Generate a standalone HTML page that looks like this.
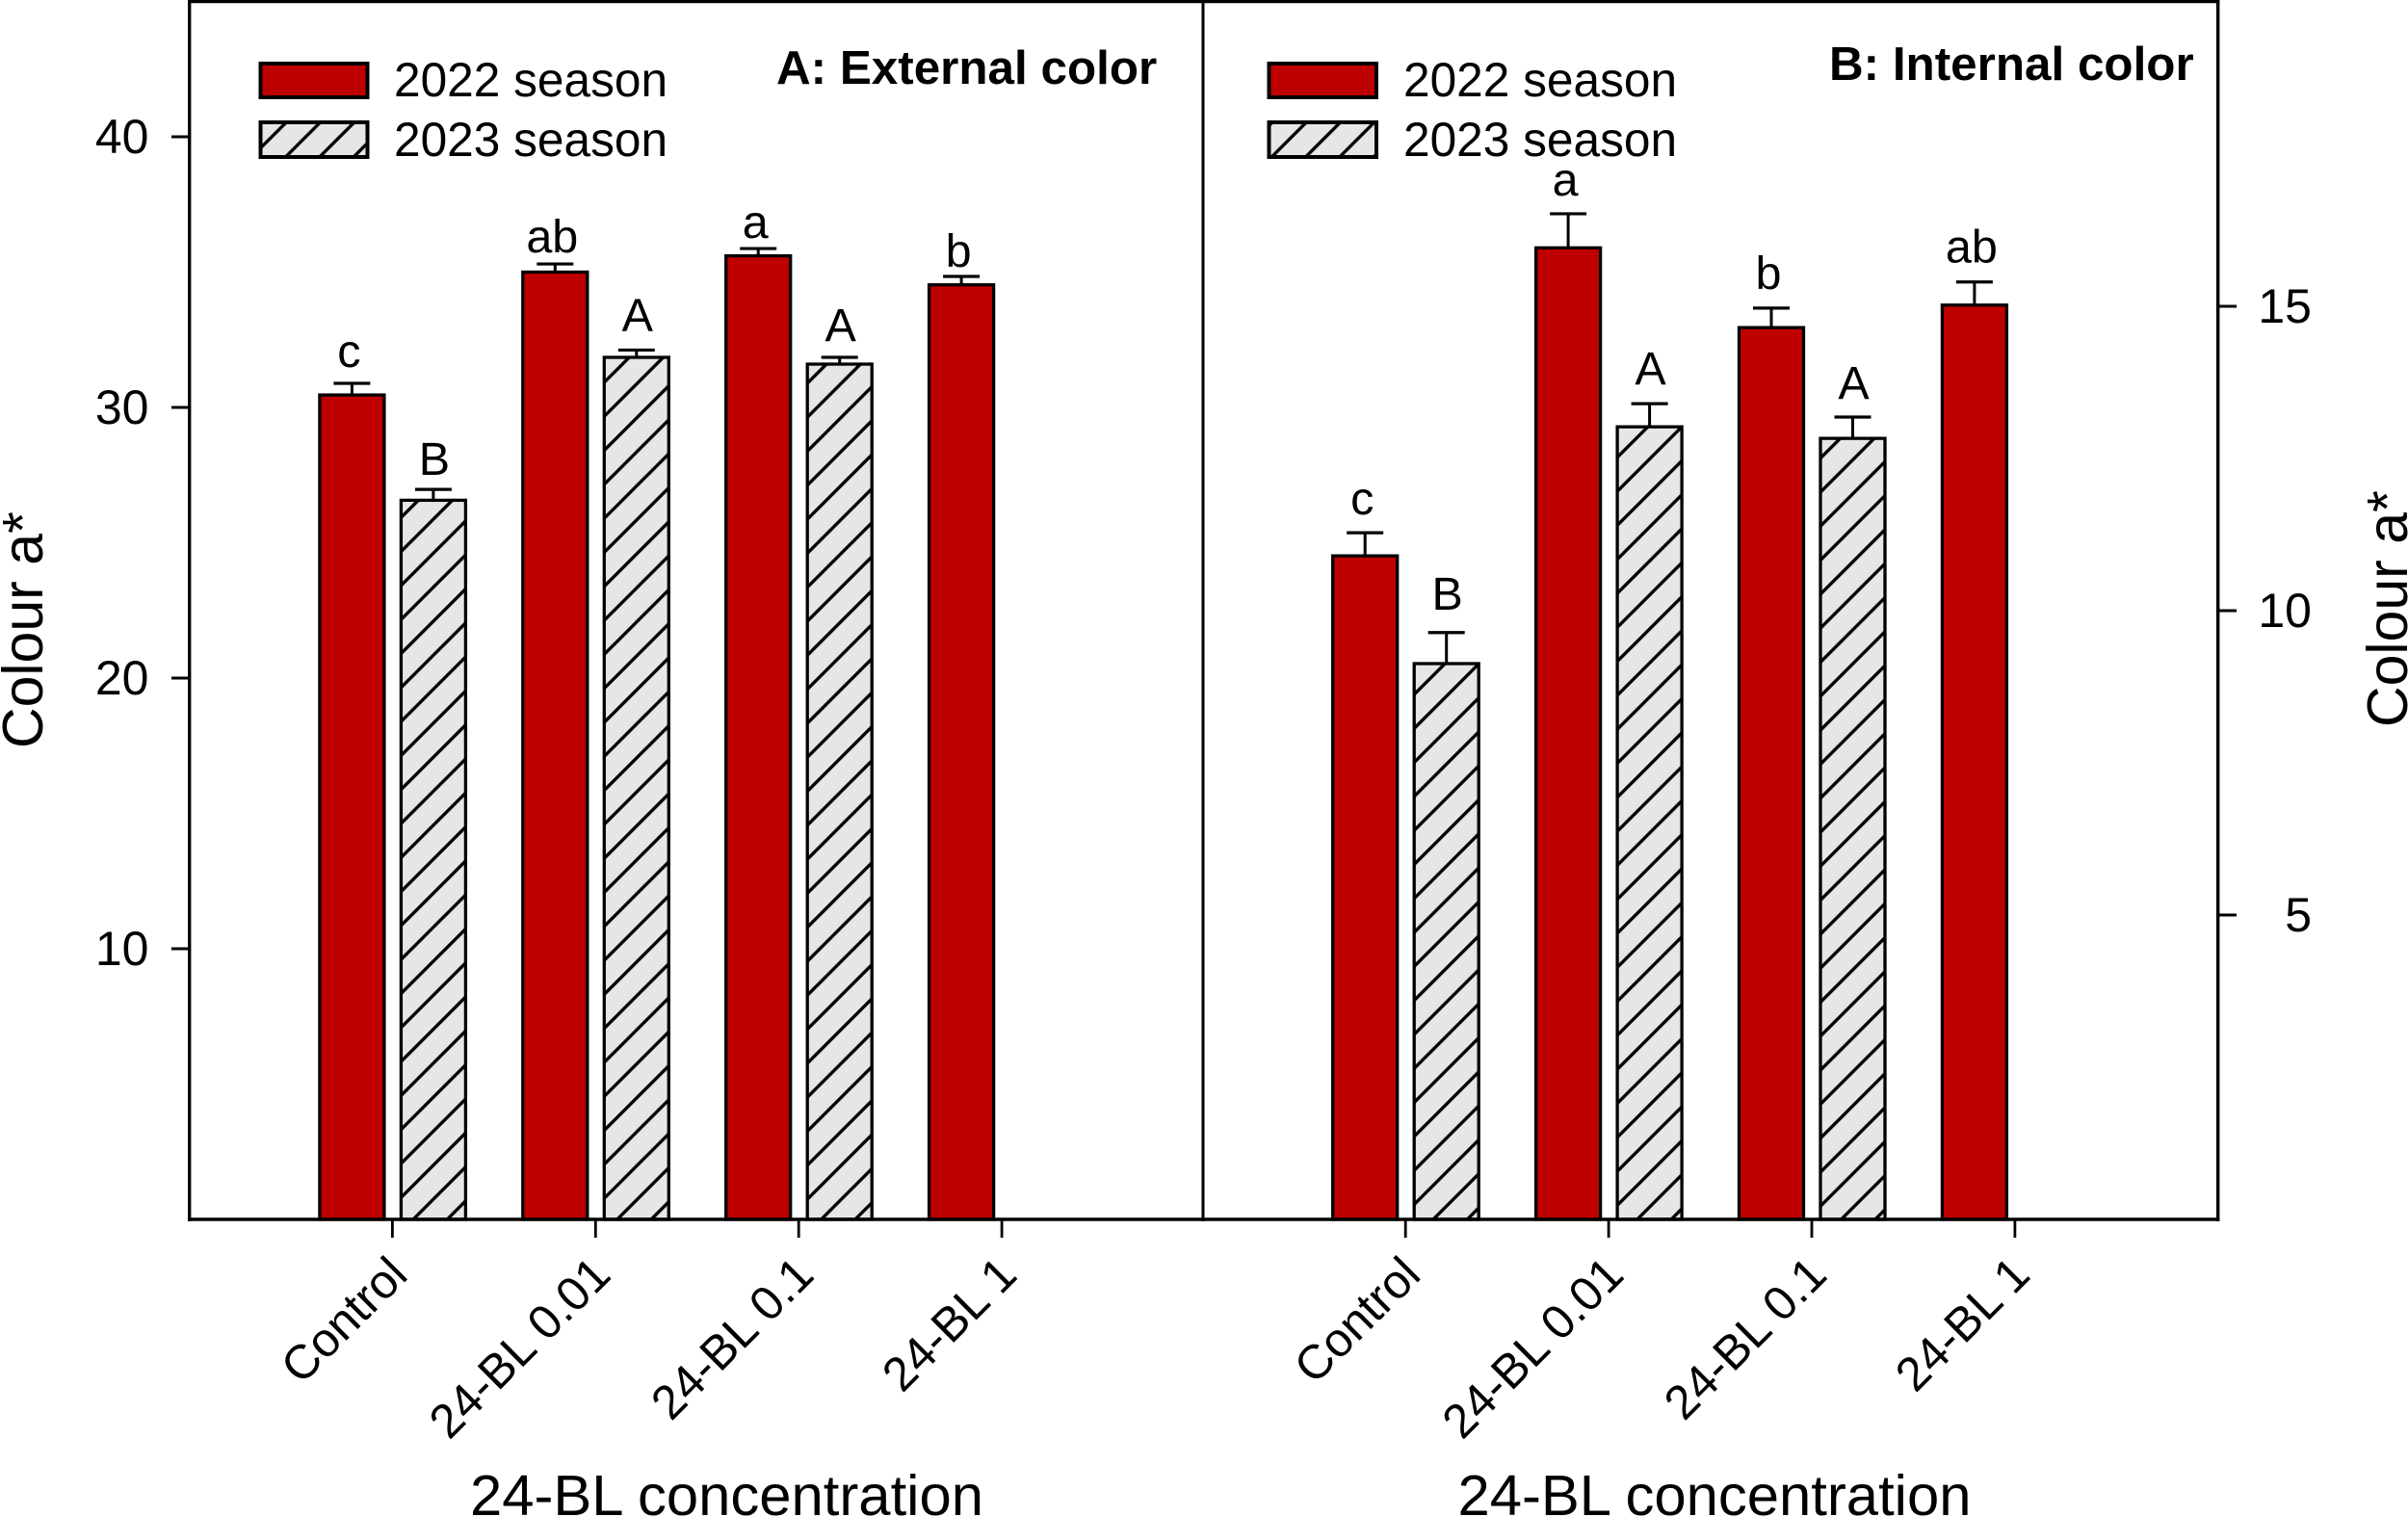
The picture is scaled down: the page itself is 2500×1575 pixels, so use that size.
<!DOCTYPE html>
<html lang="en">
<head>
<meta charset="utf-8">
<title>Colour a* by 24-BL concentration</title>
<style>
html,body{margin:0;padding:0;background:#fff;width:2500px;height:1575px;overflow:hidden}
svg{display:block}
text{font-family:"Liberation Sans",Arial,sans-serif;fill:#000}
</style>
</head>
<body>
<svg id="chart" xmlns="http://www.w3.org/2000/svg" width="2500" height="1575" viewBox="0 0 2500 1575">
  <defs>
    <pattern id="hatch" patternUnits="userSpaceOnUse" width="35.3" height="35.3" patternTransform="translate(0.6,0)">
      <rect width="35.3" height="35.3" fill="#e6e6e6"/>
      <path d="M-5,40.3 L40.3,-5 M-5,5 L5,-5 M30.3,40.3 L40.3,30.3" stroke="#000" stroke-width="3.4" fill="none"/>
    </pattern>
  </defs>
  <rect width="2500" height="1575" fill="#fff"/>

  <g id="marks"></g>

  <g stroke="#000" fill="none">
    <line x1="196.7" y1="0" x2="196.7" y2="1268" stroke-width="3.4"/>
    <line x1="1249" y1="0" x2="1249" y2="1268" stroke-width="3"/>
    <line x1="2302.7" y1="0" x2="2302.7" y2="1268" stroke-width="3.4"/>
    <line x1="195" y1="1.5" x2="2304.4" y2="1.5" stroke-width="3.4"/>
    <line x1="195" y1="1266" x2="2304.4" y2="1266" stroke-width="3.6"/>
  </g>
  <g id="axes"></g>

  <g>
    <g>
      <rect x="270.5" y="66" width="111" height="35" fill="#bf0000" stroke="#000" stroke-width="4"/>
      <text x="409" y="100" font-size="49.6">2022 season</text>
    </g>
    <g>
      <rect x="270.5" y="127" width="111" height="36" fill="url(#hatch)" stroke="#000" stroke-width="4"/>
      <text x="409" y="162" font-size="49.6">2023 season</text>
    </g>
  </g>
  <g>
    <g>
      <rect x="1317.5" y="66" width="111.5" height="35" fill="#bf0000" stroke="#000" stroke-width="4"/>
      <text x="1457" y="100" font-size="49.6">2022 season</text>
    </g>
    <g>
      <rect x="1317.5" y="127" width="111.5" height="36" fill="url(#hatch)" stroke="#000" stroke-width="4"/>
      <text x="1457" y="162" font-size="49.6">2023 season</text>
    </g>
  </g>

  <text x="806" y="87" font-size="49.4" font-weight="700">A: External color</text>
  <text x="1899" y="83" font-size="49.4" font-weight="700">B: Internal color</text>

  <text transform="translate(44,777) rotate(-90)" font-size="59">Colour a*</text>
  <text transform="translate(2499,755) rotate(-90)" font-size="59">Colour a*</text>
  <text x="488" y="1573" font-size="59.8">24-BL concentration</text>
  <text x="1513.5" y="1573" font-size="59.8">24-BL concentration</text>
</svg>

<script>
// ---- chart data ----
var categories = ['Control', '24-BL 0.01', '24-BL 0.1', '24-BL 1'];

var externalSeason2022 = [30.46, 35.0, 35.6, 34.53];
var externalSeason2022Err = [0.43, 0.30, 0.27, 0.31];
var externalSeason2022Letters = ['c', 'ab', 'a', 'b'];
var externalSeason2023 = [26.57, 31.85, 31.6];
var externalSeason2023Err = [0.40, 0.27, 0.25];
var externalSeason2023Letters = ['B', 'A', 'A'];

var internalSeason2022 = [10.9, 15.96, 14.65, 15.02];
var internalSeason2022Err = [0.38, 0.56, 0.32, 0.38];
var internalSeason2022Letters = ['c', 'a', 'b', 'ab'];
var internalSeason2023 = [9.13, 13.02, 12.83];
var internalSeason2023Err = [0.51, 0.38, 0.35];
var internalSeason2023Letters = ['B', 'A', 'A'];

var externalTicks = [10, 20, 30, 40];
var internalTicks = [5, 10, 15];

// ---- layout ----
var NS = 'http://www.w3.org/2000/svg';
var marks = document.getElementById('marks');
var axes = document.getElementById('axes');
var plotBottom = 1266;
var slotStep = 210.9;
var barWidth = 67;
var capHalf = 19;
var externalLabelLift = {s22: [17, 12, 11, 10], s23: [15, 20, 17]};
var internalLabelLift = {s22: [19, 19, 20, 20], s23: [24, 20, 19]};

function yExternal(v) { return plotBottom - 28.1 * v; }
function yInternal(v) { return plotBottom - 63.2 * v; }
function xSlotA(i) { return 407.4 + i * slotStep; }
function xSlotB(i) { return 1459.2 + i * slotStep; }

function make(parent, tag, attrs, content) {
  var el = document.createElementNS(NS, tag);
  for (var k in attrs) { el.setAttribute(k, attrs[k]); }
  if (content !== undefined) { el.textContent = content; }
  parent.appendChild(el);
  return el;
}

function drawSeries(panel, season, values, errs, letters, lifts, xFn, yFn, offset, fill, labelDx) {
  values.forEach(function (v, i) {
    var cx = xFn(i) + offset;
    var top = yFn(v);
    var capY = yFn(v + errs[i]);

    var stem = make(marks, 'line', {x1: cx, y1: top, x2: cx, y2: capY, stroke: '#000', 'stroke-width': 3});
    
    

    var cap = make(marks, 'line', {x1: cx - capHalf, y1: capY, x2: cx + capHalf, y2: capY, stroke: '#000', 'stroke-width': 3.2});
    
    

    var bar = make(marks, 'rect', {x: cx - barWidth / 2, y: top, width: barWidth, height: plotBottom - top, fill: fill, stroke: '#000', 'stroke-width': 3.3});
    
    

    var label = make(marks, 'text', {x: cx + labelDx, y: capY - lifts[i], 'font-size': 48.5, 'text-anchor': 'middle'}, letters[i]);
    
    
  });
}

drawSeries('external', '2022', externalSeason2022, externalSeason2022Err, externalSeason2022Letters, externalLabelLift.s22, xSlotA, yExternal, -42, '#bf0000', -3);
drawSeries('external', '2023', externalSeason2023, externalSeason2023Err, externalSeason2023Letters, externalLabelLift.s23, xSlotA, yExternal, 42.5, 'url(#hatch)', 1);
drawSeries('internal', '2022', internalSeason2022, internalSeason2022Err, internalSeason2022Letters, internalLabelLift.s22, xSlotB, yInternal, -42, '#bf0000', -3);
drawSeries('internal', '2023', internalSeason2023, internalSeason2023Err, internalSeason2023Letters, internalLabelLift.s23, xSlotB, yInternal, 42.5, 'url(#hatch)', 1);

externalTicks.forEach(function (t) {
  var y = yExternal(t);
  var tick = make(axes, 'line', {x1: 178, y1: y, x2: 197, y2: y, stroke: '#000', 'stroke-width': 3});
  
  
  var lab = make(axes, 'text', {x: 154.5, y: y + 17, 'font-size': 50, 'text-anchor': 'end'}, String(t));
  
  
});

internalTicks.forEach(function (t) {
  var y = yInternal(t);
  var tick = make(axes, 'line', {x1: 2303, y1: y, x2: 2322, y2: y, stroke: '#000', 'stroke-width': 3});
  
  
  var lab = make(axes, 'text', {x: 2400, y: y + 17, 'font-size': 50, 'text-anchor': 'end'}, String(t));
  
  
});

categories.forEach(function (c, i) {
  [xSlotA(i), xSlotB(i)].forEach(function (x, p) {
    var tick = make(axes, 'line', {x1: x, y1: 1266, x2: x, y2: 1285, stroke: '#000', 'stroke-width': 2.8});
    
    
    var lx = x + 18, ly = 1326;
    var lab = make(axes, 'text', {x: lx, y: ly, 'font-size': 49.5, 'text-anchor': 'end', transform: 'rotate(-45 ' + lx + ' ' + ly + ')'}, c);
    
    
  });
});
</script>
</body>
</html>
